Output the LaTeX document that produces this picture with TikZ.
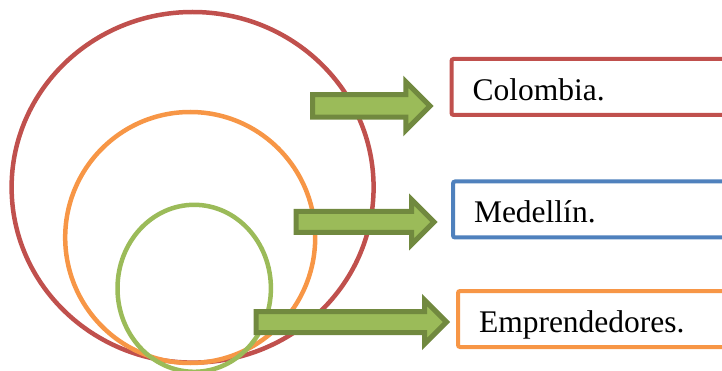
\documentclass[tikz,border=0pt]{standalone}
\usepackage{fontspec}
\setmainfont{Liberation Serif}
\newfontfamily\tagfont{Liberation Serif}
\usetikzlibrary{shapes.arrows}
\definecolor{ringRed}{HTML}{C0504D}
\definecolor{ringOrange}{HTML}{F79646}
\definecolor{ringGreen}{HTML}{9BBB59}
\definecolor{boxBlue}{HTML}{4F81BD}
\definecolor{arrowOlive}{HTML}{71893F}

\begin{document}
\begin{tikzpicture}[
    x=1pt, y=-1pt,
    ring/.style={line width=4.5pt},
    tagbox/.style={rectangle, rounded corners=2pt, line width=4pt, fill=white,
                   minimum height=56pt, text width=250pt, align=left,
                   inner xsep=21pt, outer sep=0pt, text height=27pt, text depth=0pt,
                   font=\tagfont\fontsize{31.5}{36}\selectfont, anchor=west},
    blockarr/.style={single arrow, draw=arrowOlive, fill=ringGreen,
                     line width=5pt, inner sep=0pt, outer sep=0pt,
                     text depth=0pt, anchor=tail}
  ]
    \path[use as bounding box, clip] (0,0) rectangle (722,371);

    % nested circles
    \draw[ring, ringRed]    (192.6,187.3) ellipse [x radius=181pt, y radius=175.3pt];
    \draw[ring, ringOrange] (190.2,237.5) ellipse [x radius=125pt, y radius=125.5pt];
    \draw[ring, ringGreen]  (194.2,288.3) ellipse [x radius=76.7pt, y radius=83.5pt];

    % block arrows
    \node[blockarr, minimum height=117.5pt, text height=17.5pt,
          single arrow head extend=13pt] (toColombia) at (312.5,106) {};
    \node[blockarr, minimum height=138pt, text height=16pt,
          single arrow head extend=12pt] (toMedellin) at (296,222) {};
    \node[blockarr, minimum height=190.5pt, text height=16pt,
          single arrow head extend=11.5pt] (toEmpr) at (256,322) {};

    % labels
    \node[tagbox, draw=ringRed]    (colombia) at (451.5,87)  {Colombia.};
    \node[tagbox, draw=boxBlue]    (medellin) at (453,209.5) {Medellín.};
    \node[tagbox, draw=ringOrange] (empr)     at (458,319)   {Emprendedores.};
\end{tikzpicture}
\end{document}
